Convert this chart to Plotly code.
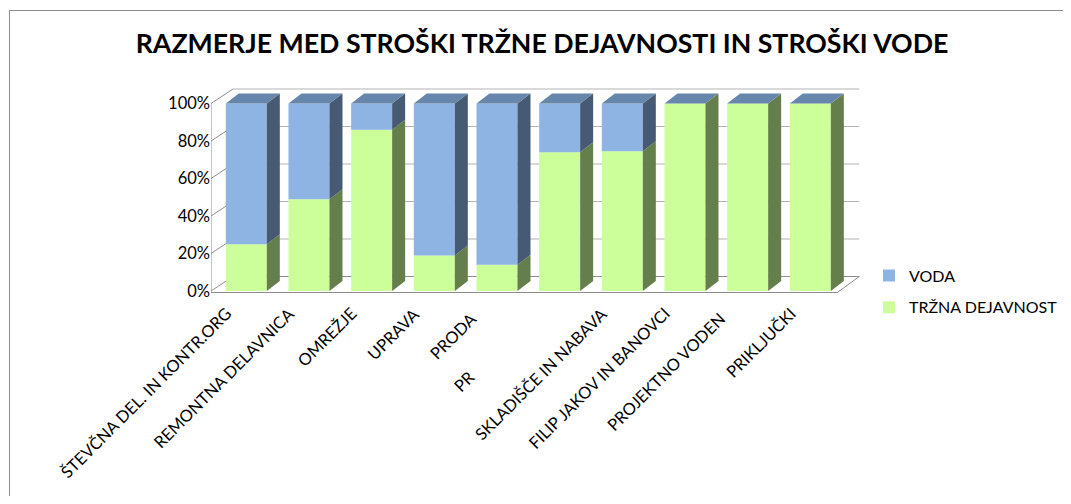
import plotly.graph_objects as go

# ---------------- data ----------------
categories = ["ŠTEVČNA DEL. IN KONTR.ORG", "REMONTNA DELAVNICA", "OMREŽJE", "UPRAVA",
              "PRODAJA", "PR", "SKLADIŠČE IN NABAVA", "FILIP JAKOV IN BANOVCI",
              "PROJEKTNO VODENJE", "PRIKLJUČKI"]
shown_labels = ["ŠTEVČNA DEL. IN KONTR.ORG", "REMONTNA DELAVNICA", "OMREŽJE", "UPRAVA",
                "PRODA", "PR", "SKLADIŠČE IN NABAVA", "FILIP JAKOV IN BANOVCI",
                "PROJEKTNO VODEN", "PRIKLJUČKI"]
trzna = [25, 49, 86, 19, 14, 74, 74.5, 100, 100, 100]
voda = [75, 51, 14, 81, 86, 26, 25.5, 0, 0, 0]
y_ticks = [0, 0.2, 0.4, 0.6, 0.8, 1.0]
y_ticktext = ["0%", "20%", "40%", "60%", "80%", "100%"]
title_text = "RAZMERJE MED STROŠKI TRŽNE DEJAVNOSTI IN STROŠKI VODE"

# ---------------- geometry (screen pixel layout) ----------------
OFF = 8                      # page body margin
W, H = 1055, 488             # figure size
PL, PR, PT, PB = 211, 870, 81, 310   # plot area in screen pixels
X0PX, XS = 246.3, 62.67      # pixel of category 0, pixels per category
Y0PX, YS = 291.0, 187.5      # pixel of 0 %, pixels per 100 %
xmin, xmax = (PL - X0PX) / XS, (PR - X0PX) / XS
ymin, ymax = (Y0PX - PB) / YS, (Y0PX - PT) / YS

def dxp(p): return p / XS
def dyp(p): return p / YS
def pxX(p): return (p - PL) / (PR - PL)
def pxY(p): return (PB - p) / (PB - PT)

BW = dxp(41)                       # bar width
BDX, BDY = dxp(13), dyp(10)        # bar depth
WDX, WDY = dxp(22), dyp(14.5)      # wall depth
back_right = (859.3 - X0PX) / XS
floor_front_right = back_right - WDX

# colours
C_VODA, C_VODA_SIDE, C_VODA_TOP = "#8DB4E2", "#465A73", "#6786AC"
C_TRZ, C_TRZ_SIDE = "#CCFF99", "#647F4B"
GRID = "#B3B3B3"
AX = "#8C8C8C"
FONT = "Lato"
FS = 16.5

share_t = [t / (t + v) for t, v in zip(trzna, voda)]
share_v = [v / (t + v) for t, v in zip(trzna, voda)]
xs = list(range(len(categories)))

fig = go.Figure()

# front faces
fig.add_trace(go.Bar(x=xs, y=share_t, width=BW, name="TRŽNA DEJAVNOST",
                     marker=dict(color=C_TRZ, line=dict(width=0)),
                     legendgroup="t", legendrank=2))
fig.add_trace(go.Bar(x=xs, y=share_v, base=share_t, width=BW, name="VODA",
                     marker=dict(color=C_VODA, line=dict(width=0)),
                     legendgroup="v", legendrank=1))

def side_polys(lo, hi):
    px, py = [], []
    for i, (a, b) in enumerate(zip(lo, hi)):
        if b - a <= 0:
            continue
        r = i + BW / 2
        px += [r, r + BDX, r + BDX, r, r, None]
        py += [a, a + BDY, b + BDY, b, a, None]
    return px, py

sx, sy = side_polys([0] * len(xs), share_t)
fig.add_trace(go.Scatter(x=sx, y=sy, fill="toself", fillcolor=C_TRZ_SIDE, mode="lines",
                         line=dict(width=0), showlegend=False, hoverinfo="skip"))
tops = [a + b for a, b in zip(share_t, share_v)]
sx, sy = side_polys(share_t, tops)
fig.add_trace(go.Scatter(x=sx, y=sy, fill="toself", fillcolor=C_VODA_SIDE, mode="lines",
                         line=dict(width=0), showlegend=False, hoverinfo="skip"))
tx, ty = [], []
for i, top in enumerate(tops):
    l, r = i - BW / 2, i + BW / 2
    tx += [l, r, r + BDX, l + BDX, l, None]
    ty += [top, top, top + BDY, top + BDY, top, None]
fig.add_trace(go.Scatter(x=tx, y=ty, fill="toself", fillcolor=C_VODA_TOP, mode="lines",
                         line=dict(width=0), showlegend=False, hoverinfo="skip"))

# walls / floor
shapes = []
for v in y_ticks:
    shapes.append(dict(type="line", xref="x", yref="y", layer="below",
                       x0=xmin + WDX, x1=back_right, y0=v + WDY, y1=v + WDY,
                       line=dict(color=AX if v == 0 else GRID, width=1)))
    shapes.append(dict(type="line", xref="x", yref="y", layer="below",
                       x0=xmin, x1=xmin + WDX, y0=v, y1=v + WDY,
                       line=dict(color=AX, width=1)))
shapes.append(dict(type="line", xref="x", yref="y", layer="below",
                   x0=xmin, x1=xmin, y0=-dyp(1), y1=1, line=dict(color=AX, width=1)))
fy = -dyp(1.5)
shapes.append(dict(type="line", xref="x", yref="y", layer="below",
                   x0=xmin, x1=floor_front_right, y0=fy, y1=fy, line=dict(color=AX, width=1)))
shapes.append(dict(type="line", xref="x", yref="y", layer="below",
                   x0=floor_front_right, x1=back_right, y0=fy, y1=WDY, line=dict(color=AX, width=1)))
# chart border
shapes.append(dict(type="rect", xref="paper", yref="paper", layer="above",
                   x0=pxX(9.5), x1=pxX(1090), y0=pxY(10.5), y1=pxY(530),
                   line=dict(color="#8C8C8C", width=1), fillcolor="rgba(0,0,0,0)"))

# category labels (rotated)
annotations = []
for i, lab in enumerate(shown_labels):
    xpx, ypx = X0PX + i * XS - 8, 301
    if i == 4:
        xpx, ypx = X0PX + i * XS - 13, 306
    if i == 5:
        xpx, ypx = 482, 364
    if i == 8:
        xpx, ypx = X0PX + i * XS - 16, 306
    annotations.append(dict(x=pxX(xpx), y=pxY(ypx), xref="paper", yref="paper", text=lab,
                            showarrow=False, textangle=-45, xanchor="right", yanchor="top",
                            font=dict(family=FONT, size=FS, color="#000000")))

fig.update_layout(
    width=W, height=H,
    margin=dict(l=PL - OFF, r=OFF + W - PR, t=PT - OFF, b=OFF + H - PB, pad=0,
                autoexpand=False),
    paper_bgcolor="white", plot_bgcolor="white",
    barmode="overlay",
    title=dict(text="<b>" + title_text + "</b>", xref="container", yref="container",
               x=(542 - OFF) / W, y=1 - (44 - OFF) / H, xanchor="center", yanchor="middle",
               font=dict(family=FONT, size=26.7, color="#000000")),
    xaxis=dict(range=[xmin, xmax], showticklabels=False, showgrid=False, zeroline=False,
               showline=False, ticks="", fixedrange=True),
    yaxis=dict(range=[ymin, ymax], tickvals=y_ticks, ticktext=y_ticktext, showgrid=False,
               zeroline=False, showline=False, ticks="",
               tickfont=dict(family=FONT, size=FS, color="#000000")),
    legend=dict(x=pxX(869), y=pxY(258.5), xanchor="left", yanchor="top",
                traceorder="grouped", tracegroupgap=8, bgcolor="rgba(0,0,0,0)",
                font=dict(family=FONT, size=16, color="#000000")),
    shapes=shapes, annotations=annotations, showlegend=True,
)

fig.write_html("out.html")
